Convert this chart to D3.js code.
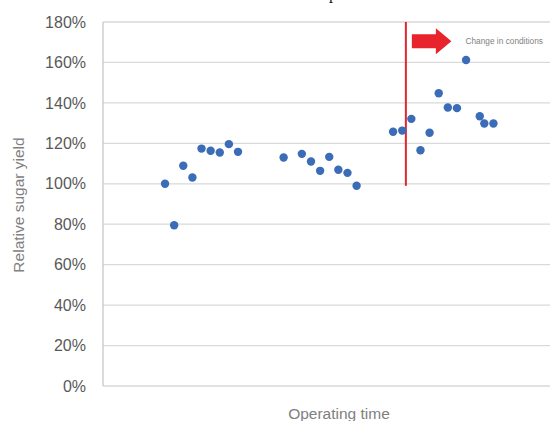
<!DOCTYPE html>
<html>
<head>
<meta charset="utf-8">
<script src="https://cdn.jsdelivr.net/npm/d3@7"></script>
<style>
  body { margin: 0; background: #fff; }
  svg { display: block; }
</style>
</head>
<body>
<div id="chart"></div>
<script>
// Data
var times = [0, 1, 2, 3, 4, 5, 6, 7, 8,
  13, 15, 16, 17, 18, 19, 20, 21,
  25, 26, 27, 28, 29, 30, 31, 32, 33, 34.5, 35, 36];
var yields = [100, 79.5, 108.9, 103.1, 117.4, 116.3, 115.5, 119.6, 115.8,
  113.0, 114.8, 111.0, 106.4, 113.3, 106.9, 105.4, 99.0,
  125.7, 126.3, 132.1, 116.6, 125.2, 144.8, 137.7, 137.4, 161.2, 133.4, 129.8, 129.8];
var yTicks = [0, 20, 40, 60, 80, 100, 120, 140, 160, 180];
var changeTime = 26.4;      // where conditions change
var changeFrom = 99;        // red line runs from here up to the top
var changeLabel = "Change in conditions";

var width = 550, height = 421;
var margin = {top: 22, right: 0, bottom: 35, left: 103};

var svg = d3.select('#chart')
  .append('svg')
  .attr('width', width)
  .attr('height', height);

var x = d3.scaleLinear()
  .domain([-6.8, 42.2])
  .range([margin.left, width - margin.right]);

var y = d3.scaleLinear()
  .domain([0, 180])
  .range([height - margin.bottom, margin.top]);

// cut-off title fragment at the very top
svg.append("text")
  .attr("x", 329)
  .attr("y", -1)
  .style("font-family", "Liberation Serif")
  .style("font-size", "16px")
  .style("fill", "#111")
  .text("p");

// gridlines
svg.append("g")
  .selectAll("line")
  .data(yTicks)
  .enter().append("line")
  .attr("x1", margin.left)
  .attr("x2", width)
  .attr("y1", d => y(d))
  .attr("y2", d => y(d))
  .attr("stroke", "#d9d9d9")
  .attr("stroke-width", 1.3);

// left axis line
svg.append("line")
  .attr("x1", margin.left).attr("x2", margin.left)
  .attr("y1", y(180)).attr("y2", y(0))
  .attr("stroke", "#c8c8c8")
  .attr("stroke-width", 1.3);

// y axis labels
var yAxis = d3.axisLeft(y)
  .tickValues(yTicks)
  .tickFormat(d => d + "%")
  .tickSize(0)
  .tickPadding(17);

svg.append("g")
  .attr("transform", "translate(" + margin.left + ",0)")
  .call(yAxis)
  .call(g => g.select(".domain").remove())
  .selectAll("text")
  .style("font-family", "Liberation Sans, Arial, sans-serif")
  .style("font-size", "16px")
  .style("fill", "#595959");

// axis titles
svg.append("text")
  .attr("transform", "translate(24," + 205 + ") rotate(-90)")
  .style("text-anchor", "middle")
  .style("font-family", "Liberation Sans, Arial, sans-serif")
  .style("font-size", "15.5px")
  .style("fill", "#808080")
  .text("Relative sugar yield");

svg.append("text")
  .attr("x", 339)
  .attr("y", 419)
  .style("text-anchor", "middle")
  .style("font-family", "Liberation Sans, Arial, sans-serif")
  .style("font-size", "15.5px")
  .style("fill", "#808080")
  .text("Operating time");

// red change line
svg.append("line")
  .attr("x1", x(changeTime)).attr("x2", x(changeTime))
  .attr("y1", y(180)).attr("y2", y(changeFrom))
  .attr("stroke", "#e0262e")
  .attr("stroke-width", 2);

// arrow
var ax = x(changeTime) + 6, ay = 41.3;
svg.append("path")
  .attr("d", "M" + ax + "," + (ay - 7) +
    "L" + (ax + 24) + "," + (ay - 7) +
    "L" + (ax + 24) + "," + (ay - 13) +
    "L" + (ax + 39.5) + "," + ay +
    "L" + (ax + 24) + "," + (ay + 13) +
    "L" + (ax + 24) + "," + (ay + 7) +
    "L" + ax + "," + (ay + 7) + "Z")
  .attr("fill", "#e8232b");

svg.append("text")
  .attr("x", 465.5)
  .attr("y", ay)
  .attr("dy", "0.35em")
  .style("font-family", "Liberation Sans, Arial, sans-serif")
  .style("font-size", "8.3px")
  .style("fill", "#7f7f7f")
  .text(changeLabel);

// points
svg.append("g")
  .selectAll("circle")
  .data(times)
  .enter().append("circle")
  .attr("cx", d => x(d))
  .attr("cy", (d, i) => y(yields[i]))
  .attr("r", 4.2)
  .attr("fill", "#3b6cb7");
</script>
</body>
</html>
